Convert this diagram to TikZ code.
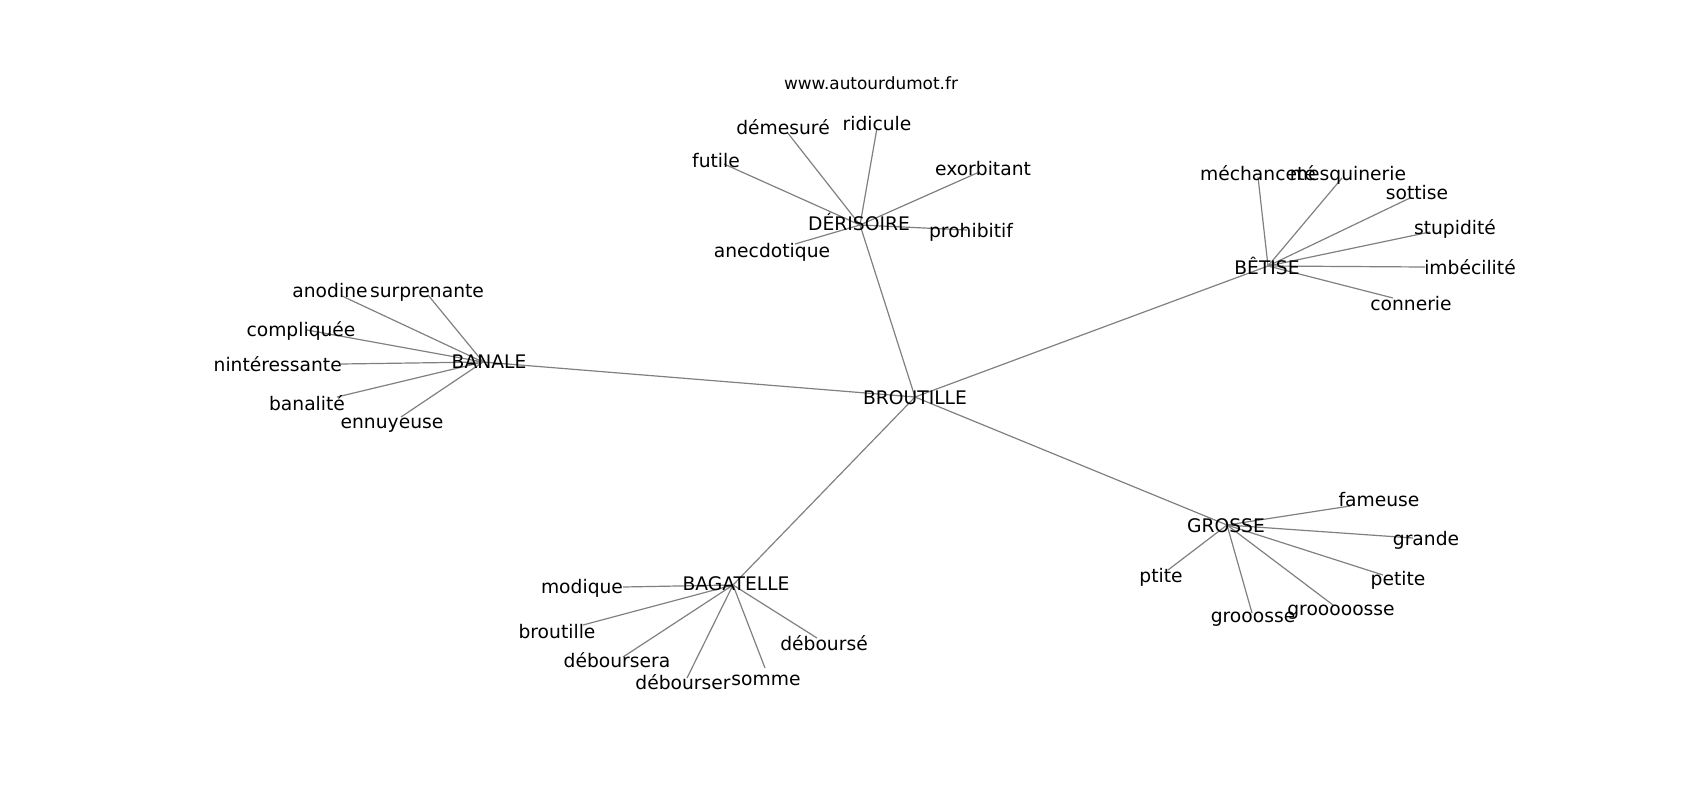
\documentclass[tikz,border=0pt]{standalone}
\usepackage{fontspec}
\setmainfont{DejaVu Sans}
\definecolor{edgegray}{RGB}{128,128,128}
\begin{document}
\begin{tikzpicture}[x=1pt,y=-1pt,
  lbl/.style={inner sep=0pt, font=\fontsize{18.7}{22}\selectfont, text height=14.2pt, text depth=4.5pt, yshift=-2.5pt},
  ttl/.style={inner sep=0pt, font=\fontsize{16.9}{20}\selectfont},
  edge/.style={draw=edgegray, line width=1.2pt}]
\useasboundingbox (0,0) rectangle (1700,800);
\node[ttl, anchor=base] (url) at (871,89) {www.autourdumot.fr};
\begin{scope}
\clip (215.5,96) rectangle (1530,712);
% hubs
\coordinate (broutille) at (915,397);
\coordinate (banale) at (483,362);
\coordinate (derisoire) at (860,225);
\coordinate (betise) at (1268,266);
\coordinate (bagatelle) at (733,585);
\coordinate (grosse) at (1227,525);
% leaves of BANALE
\coordinate (anodine) at (342,296);
\coordinate (surprenante) at (428,295);
\coordinate (compliquee) at (307,330);
\coordinate (ininteressante) at (341,364);
\coordinate (banalite) at (337,397);
\coordinate (ennuyeuse) at (401,417);
% leaves of DERISOIRE
\coordinate (demesure) at (787,132);
\coordinate (ridicule) at (877,128);
\coordinate (futile) at (724,164);
\coordinate (exorbitant) at (977,173);
\coordinate (prohibitif) at (967,230);
\coordinate (anecdotique) at (795,244);
% leaves of BETISE
\coordinate (mechancete) at (1258,177);
\coordinate (mesquinerie) at (1342,178);
\coordinate (sottise) at (1410,198);
\coordinate (stupidite) at (1430,232);
\coordinate (imbecilite) at (1425,267);
\coordinate (connerie) at (1393,298);
% leaves of BAGATELLE
\coordinate (modique) at (623,587);
\coordinate (broutillel) at (583,625);
\coordinate (deboursera) at (623,657);
\coordinate (debourser) at (687,678);
\coordinate (somme) at (765,668);
\coordinate (debourse) at (817,638);
% leaves of GROSSE
\coordinate (ptite) at (1168,570);
\coordinate (fameuse) at (1350,506);
\coordinate (grande) at (1413,538);
\coordinate (petite) at (1383,575);
\coordinate (groooooosse) at (1333,605);
\coordinate (grooosse) at (1252,613);
% edges
\draw[edge] (broutille) -- (banale);
\draw[edge] (broutille) -- (derisoire);
\draw[edge] (broutille) -- (betise);
\draw[edge] (broutille) -- (grosse);
\draw[edge] (broutille) -- (bagatelle);
\foreach \l in {anodine,surprenante,compliquee,ininteressante,banalite,ennuyeuse}
  \draw[edge] (banale) -- (\l);
\foreach \l in {demesure,ridicule,futile,exorbitant,prohibitif,anecdotique}
  \draw[edge] (derisoire) -- (\l);
\foreach \l in {mechancete,mesquinerie,sottise,stupidite,imbecilite,connerie}
  \draw[edge] (betise) -- (\l);
\foreach \l in {modique,broutillel,deboursera,debourser,somme,debourse}
  \draw[edge] (bagatelle) -- (\l);
\foreach \l in {ptite,fameuse,grande,petite,groooooosse,grooosse}
  \draw[edge] (grosse) -- (\l);
% hub labels
\node[lbl] (tbroutille) at (915,397) {BROUTILLE};
\node[lbl] (tbanale) at (489,361) {BANALE};
\node[lbl] (tderisoire) at (859,223) {DÉRISOIRE};
\node[lbl] (tbetise) at (1267,267) {BÊTISE};
\node[lbl] (tbagatelle) at (736,583) {BAGATELLE};
\node[lbl] (tgrosse) at (1226,525) {GROSSE};
% leaf labels
\node[lbl] (tanodine) at (330,290) {anodine};
\node[lbl] (tsurprenante) at (427,290) {surprenante};
\node[lbl] (tcompliquee) at (301,329) {compliquée};
\node[lbl, anchor=east] (tininteressante) at (342,364) {inintéressante};
\node[lbl] (tbanalite) at (307,403) {banalité};
\node[lbl] (tennuyeuse) at (392,421) {ennuyeuse};
\node[lbl] (tdemesure) at (783,127) {démesuré};
\node[lbl] (tridicule) at (877,123) {ridicule};
\node[lbl] (tfutile) at (716,160) {futile};
\node[lbl] (texorbitant) at (983,168) {exorbitant};
\node[lbl] (tprohibitif) at (971,230) {prohibitif};
\node[lbl] (tanecdotique) at (772,250) {anecdotique};
\node[lbl] (tmechancete) at (1258,173) {méchanceté};
\node[lbl] (tmesquinerie) at (1348,173) {mesquinerie};
\node[lbl] (tsottise) at (1417,192) {sottise};
\node[lbl] (tstupidite) at (1455,227) {stupidité};
\node[lbl] (timbecilite) at (1470,267) {imbécilité};
\node[lbl] (tconnerie) at (1411,303) {connerie};
\node[lbl] (tmodique) at (582,586) {modique};
\node[lbl] (tbroutillel) at (557,631) {broutille};
\node[lbl] (tdeboursera) at (617,660) {déboursera};
\node[lbl] (tdebourser) at (683,682) {débourser};
\node[lbl] (tsomme) at (766,678) {somme};
\node[lbl] (tdebourse) at (824,643) {déboursé};
\node[lbl] (tptite) at (1161,575) {ptite};
\node[lbl] (tfameuse) at (1379,499) {fameuse};
\node[lbl] (tgrande) at (1426,538) {grande};
\node[lbl] (tpetite) at (1398,578) {petite};
\node[lbl] (tgroooooosse) at (1341,608) {grooooosse};
\node[lbl] (tgrooosse) at (1253,615) {grooosse};
\end{scope}
\end{tikzpicture}
\end{document}
